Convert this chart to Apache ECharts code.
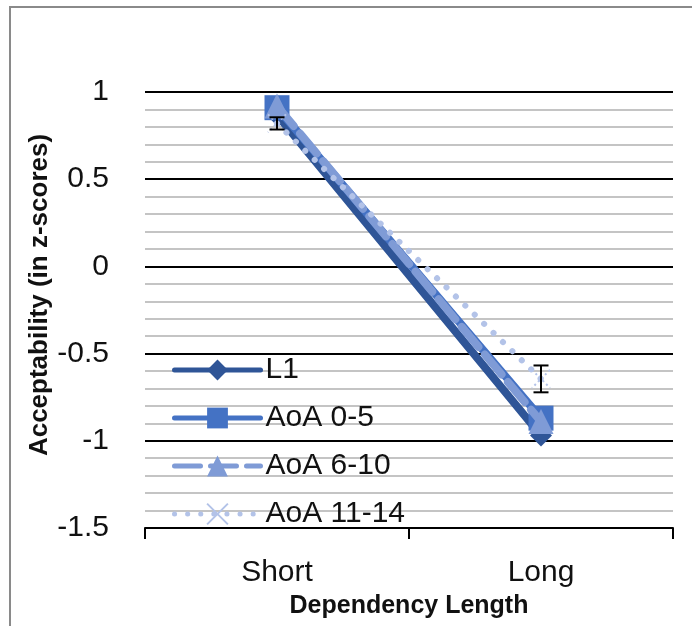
<!DOCTYPE html>
<html>
<head>
<meta charset="utf-8">
<script src="https://cdn.jsdelivr.net/npm/echarts@6/dist/echarts.min.js"></script>
<style>
  html, body { margin: 0; padding: 0; background: #fff; }
  #chart { width: 692px; height: 626px; }
</style>
</head>
<body>
<div id="chart"></div>
<script>
// Dependency length conditions on the x axis
const categories = ['Short', 'Long'];

// Mean acceptability (z-scores) per group
const l1 = [0.87, -0.97];
const aoa0to5 = [0.91, -0.87];
const aoa6to10 = [0.92, -0.89];
const aoa11to14 = [0.82, -0.645];

// Standard errors shown for the AoA 11-14 group
const aoa11to14Err = [0.035, 0.077];

const seriesNames = ['L1', 'AoA 0-5', 'AoA 6-10', 'AoA 11-14'];

const FONT = "'Liberation Sans', Arial, sans-serif";
const xMark = 'path://M0,0L10,10M10,0L0,10';

const chart = echarts.init(document.getElementById('chart'), null, { renderer: 'canvas' });

const errData = aoa11to14.map((v, i) => [i, v, aoa11to14Err[i]]);

chart.setOption({
  animation: false,
  graphic: [{
    type: 'rect',
    shape: { x: 10, y: 7, width: 900, height: 900 },
    style: { fill: 'none', stroke: '#8a8a8a', lineWidth: 2 },
    silent: true,
    z: -10
  }],
  grid: { left: 145, right: 19, top: 92, bottom: 98, containLabel: false },
  legend: {
    orient: 'vertical',
    left: 172,
    top: 355,
    padding: 0,
    itemWidth: 86,
    itemHeight: 26,
    itemGap: 18,
    lineStyle: { width: 5 },
    textStyle: { fontFamily: FONT, fontSize: 30, color: '#111' },
    data: seriesNames
  },
  xAxis: {
    type: 'category',
    data: categories,
    boundaryGap: true,
    name: 'Dependency Length',
    nameLocation: 'middle',
    nameGap: 66,
    nameTextStyle: { fontFamily: FONT, fontSize: 25, fontWeight: 'bold', color: '#111' },
    axisLine: { show: true, onZero: false, lineStyle: { color: '#000', width: 2 } },
    axisTick: { show: true, length: 11, lineStyle: { color: '#000', width: 2 } },
    axisLabel: { fontFamily: FONT, fontSize: 30, color: '#111', margin: 30 },
    splitLine: { show: false }
  },
  yAxis: {
    type: 'value',
    min: -1.5,
    max: 1,
    interval: 0.5,
    name: 'Acceptability (in z-scores)',
    nameLocation: 'middle',
    nameGap: 92,
    nameMoveOverlap: false,
    nameTextStyle: { fontFamily: FONT, fontSize: 26, fontWeight: 'bold', color: '#111', padding: [0, 0, 0, 30] },
    axisLine: { show: false },
    axisTick: { show: false },
    axisLabel: {
      fontFamily: FONT, fontSize: 30, color: '#111', margin: 36,
      formatter: v => String(Math.round(v * 10) / 10)
    },
    splitLine: { show: true, lineStyle: { color: '#000', width: 2 } },
    minorTick: { show: false, splitNumber: 5 },
    minorSplitLine: { show: true, lineStyle: { color: '#c4c4c4', width: 2 } }
  },
  series: [
    {
      name: 'L1', type: 'line', data: l1,
      symbol: 'diamond', symbolSize: 22,
      color: '#2f5597',
      lineStyle: { color: '#2f5597', width: 8, cap: 'round' },
      itemStyle: { color: '#2f5597' },
      z: 2
    },
    {
      name: 'AoA 0-5', type: 'line', data: aoa0to5,
      symbol: 'rect', symbolSize: 25,
      color: '#4472c4',
      lineStyle: { color: '#4472c4', width: 8, cap: 'round' },
      itemStyle: { color: '#4472c4' },
      z: 3
    },
    {
      name: 'AoA 6-10', type: 'line', data: aoa6to10,
      symbol: 'triangle', symbolSize: 25,
      color: '#7f9bd6',
      lineStyle: { color: '#7f9bd6', width: 8, type: [26, 10], cap: 'round' },
      itemStyle: { color: '#7f9bd6' },
      z: 4
    },
    {
      name: 'AoA 11-14', type: 'line', data: aoa11to14,
      symbol: xMark, symbolSize: 18,
      color: '#b3c3e8',
      lineStyle: { color: '#b3c3e8', width: 6, type: [0.1, 13], cap: 'round' },
      itemStyle: { color: 'rgba(0,0,0,0)', borderColor: '#b3c3e8', borderWidth: 2, borderType: [2, 3] },
      z: 5
    },
    {
      type: 'custom',
      name: 'errors',
      data: errData,
      z: 6,
      silent: true,
      renderItem: function (params, api) {
        const x = api.value(0);
        const v = api.value(1);
        const e = api.value(2);
        const top = api.coord([x, v + e]);
        const bot = api.coord([x, v - e]);
        const half = 7.5;
        const style = { stroke: '#000', lineWidth: 2 };
        return {
          type: 'group',
          children: [
            { type: 'line', shape: { x1: top[0], y1: top[1], x2: bot[0], y2: bot[1] }, style },
            { type: 'line', shape: { x1: top[0] - half, y1: top[1], x2: top[0] + half, y2: top[1] }, style },
            { type: 'line', shape: { x1: bot[0] - half, y1: bot[1], x2: bot[0] + half, y2: bot[1] }, style }
          ]
        };
      }
    }
  ]
});
</script>
</body>
</html>
